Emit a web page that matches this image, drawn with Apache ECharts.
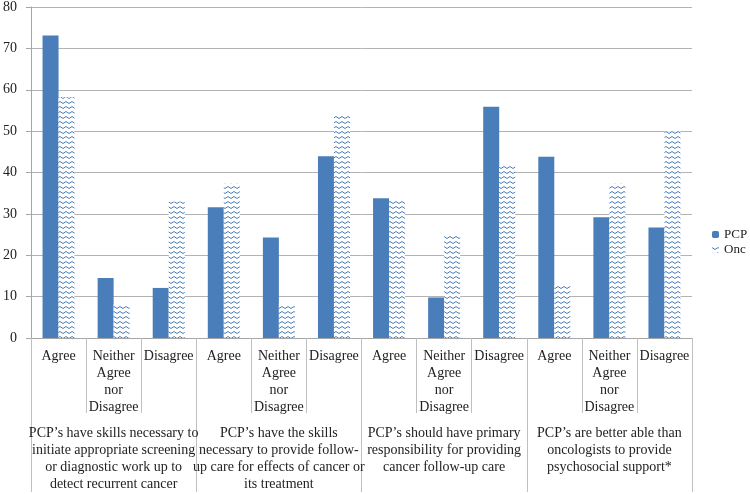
<!DOCTYPE html>
<html>
<head>
<meta charset="utf-8">
<script src="https://cdn.jsdelivr.net/npm/echarts@6/dist/echarts.min.js"></script>
<style>html,body{margin:0;padding:0;background:#fff}#c{width:750px;height:494px}</style>
</head>
<body>
<div id="c"></div>
<script>
var subCategories = ["Agree","Neither Agree nor Disagree","Disagree","Agree","Neither Agree nor Disagree","Disagree","Agree","Neither Agree nor Disagree","Disagree","Agree","Neither Agree nor Disagree","Disagree"];
var groupLabels = [
  "PCP\u2019s have skills necessary to\ninitiate appropriate screening\nor diagnostic work up to\ndetect recurrent cancer",
  "PCP\u2019s have the skills\nnecessary to provide follow-\nup care for effects of cancer or\nits treatment",
  "PCP\u2019s should have primary\nresponsibility for providing\ncancer follow-up care",
  "PCP\u2019s are better able than\noncologists to provide\npsychosocial support*"
];
var pcpValues = [73.1, 14.5, 12.1, 31.6, 24.3, 43.9, 33.8, 9.8, 55.9, 43.8, 29.2, 26.7];
var oncValues = [58.2, 8.2, 33.0, 37.3, 8.2, 53.9, 33.1, 24.7, 41.6, 12.6, 37.3, 50.0];
var seriesNames = ["PCP", "Onc"];
var yTicks = {min: 0, max: 80, interval: 10};

var FONT = '"Liberation Serif", serif';
var BLUE = '#4a7ebb';

function makePattern() {
  var c = document.createElement('canvas');
  c.width = 6; c.height = 5;
  var ctx = c.getContext('2d');
  ctx.fillStyle = '#ffffff';
  ctx.fillRect(0, 0, 6, 5);
  ctx.strokeStyle = BLUE;
  ctx.lineWidth = 1;
  ctx.beginPath();
  ctx.moveTo(0, 1.5);
  ctx.lineTo(3, 3.5);
  ctx.lineTo(6, 1.5);
  ctx.stroke();
  return c;
}

var chart = echarts.init(document.getElementById('c'), null, {renderer: 'canvas'});
chart.setOption({
  animation: false,
  textStyle: {fontFamily: FONT},
  grid: {left: 27, right: 58, top: 6, bottom: 156, containLabel: false},
  legend: {
    orient: 'vertical', left: 712, top: 228, padding: 0,
    itemWidth: 7, itemHeight: 7, itemGap: 2,
    textStyle: {fontFamily: FONT, fontSize: 13, color: '#222', lineHeight: 13},
    data: seriesNames
  },
  xAxis: [
    {
      type: 'category', data: subCategories, position: 'bottom',
      axisLine: {lineStyle: {color: '#a6a6a6'}},
      axisTick: {show: true, interval: 0, length: 75, lineStyle: {color: '#bfbfbf'}},
      axisLabel: {
        interval: 0, margin: 10, fontFamily: FONT, fontSize: 14, lineHeight: 17, color: '#222',
        formatter: function (v) { return v.split(' ').join('\n'); }
      }
    },
    {
      type: 'category', data: groupLabels, position: 'bottom',
      axisLine: {show: false},
      axisTick: {show: true, interval: 0, length: 154, lineStyle: {color: '#bfbfbf'}},
      axisLabel: {interval: 0, margin: 87, fontFamily: FONT, fontSize: 14, lineHeight: 17, color: '#222'}
    }
  ],
  yAxis: {
    type: 'value', min: yTicks.min, max: yTicks.max, interval: yTicks.interval,
    axisLine: {show: true, lineStyle: {color: '#a6a6a6'}},
    axisTick: {show: true, length: 5, lineStyle: {color: '#a6a6a6'}},
    axisLabel: {margin: 14, fontFamily: FONT, fontSize: 14, color: '#222'},
    splitLine: {lineStyle: {color: '#b3b3b3'}}
  },
  series: [
    {
      name: seriesNames[0], type: 'bar', xAxisIndex: 0, data: pcpValues,
      barWidth: 16, barGap: '0%',
      itemStyle: {color: BLUE}
    },
    {
      name: seriesNames[1], type: 'bar', xAxisIndex: 0, data: oncValues,
      barWidth: 16, barGap: '0%',
      itemStyle: {color: {image: makePattern(), repeat: 'repeat'}}
    }
  ]
});
</script>
</body>
</html>
